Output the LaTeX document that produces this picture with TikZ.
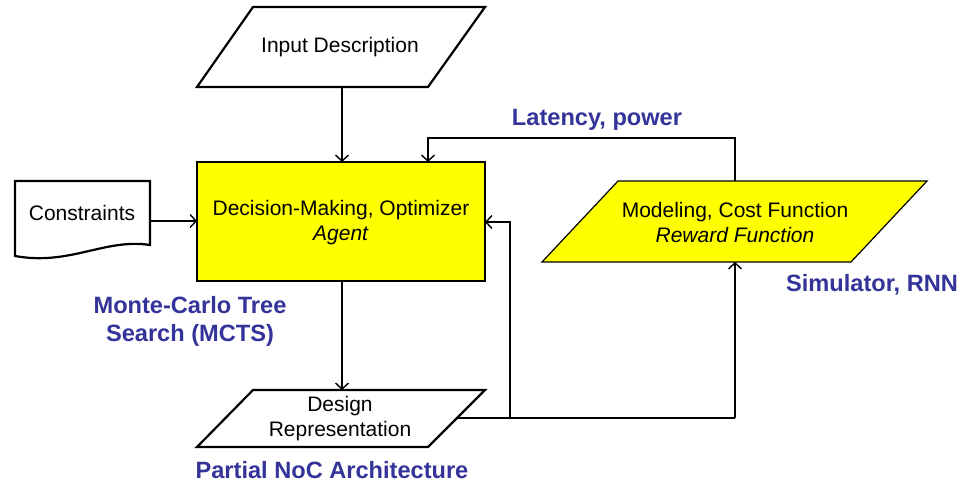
\documentclass[tikz,border=0pt]{standalone}
\usepackage{fontspec}
\setmainfont{Liberation Sans}
\usetikzlibrary{arrows.meta}
\definecolor{labelblue}{HTML}{333399}
\definecolor{boxyellow}{HTML}{FFFF00}
\tikzset{
  plainbox/.style={draw=black, line width=2.2pt, line join=miter, fill=white},
  hotbox/.style={draw=black, line width=1.2pt, fill=boxyellow},
  boxtext/.style={inner sep=0pt, align=center, font=\fontsize{21}{25}\selectfont},
  bluelabel/.style={inner sep=0pt, align=center, text=labelblue, font=\fontsize{23.6}{28}\selectfont\bfseries},
  link/.style={draw=black, line width=1.4pt, -{Straight Barb[length=6pt,width=13pt,line width=1.4pt]}},
  wire/.style={draw=black, line width=1.4pt}
}
\begin{document}
\begin{tikzpicture}[x=1pt,y=-1pt]
\useasboundingbox (0,0) rectangle (963,487);

% Input description (parallelogram)
\draw[plainbox] (253,7) -- (485,7) -- (428,87) -- (197,87) -- cycle;
\node[boxtext] (input) at (340,47) {Input Description};
\coordinate (inputS) at (342,87);

% Agent box
\draw[hotbox] (197,162) rectangle (485,281);
\node[boxtext] (agent) at (341,223) {Decision-Making, Optimizer\\\textit{Agent}};
\coordinate (agentN) at (342,162);
\coordinate (agentNR) at (428,162);
\coordinate (agentW) at (197,221);
\coordinate (agentE) at (485,222);
\coordinate (agentS) at (342,281);

% Constraints (document shape)
\draw[plainbox] (15,181) -- (150,181) -- (150,245)
  .. controls (105,238) and (70,266) .. (15,256) -- cycle;
\node[boxtext] (constraints) at (82,213) {Constraints};
\coordinate (consE) at (150,221);

% Modeling (parallelogram)
\draw[hotbox] (618,181) -- (927,181) -- (851,262) -- (542,262) -- cycle;
\node[boxtext] (model) at (735,222) {Modeling, Cost Function\\\textit{Reward Function}};
\coordinate (modelN) at (735,181);
\coordinate (modelS) at (735,262);

% Design representation (parallelogram)
\draw[plainbox] (253,390) -- (485,390) -- (428,447) -- (197,447) -- cycle;
\node[boxtext] (design) at (340,419) {Design\\Representation};
\coordinate (designN) at (342,390);
\coordinate (designE) at (457,418);

% Routing points
\coordinate (fbR) at (735,138);
\coordinate (fbL) at (428,138);
\coordinate (split) at (510,418);
\coordinate (splitUp) at (510,222);
\coordinate (turn) at (735,418);

% Connectors
\draw[link] (inputS) -- (agentN);
\draw[link] (consE) -- (agentW);
\draw[link] (agentS) -- (designN);
\draw[wire] (designE) -- (turn);
\draw[link] (turn) -- (modelS);
\draw[link] (split) -- (splitUp) -- (agentE);
\draw[link] (modelN) -- (fbR) -- (fbL) -- (agentNR);

% Labels
\node[bluelabel] (lat) at (597,120) {Latency, power};
\node[bluelabel] (mcts) at (190,321) {Monte-Carlo Tree\\Search (MCTS)};
\node[bluelabel] (sim) at (872,285) {Simulator, RNN};
\node[bluelabel] (noc) at (332,470) {Partial NoC Architecture};
\end{tikzpicture}
\end{document}
